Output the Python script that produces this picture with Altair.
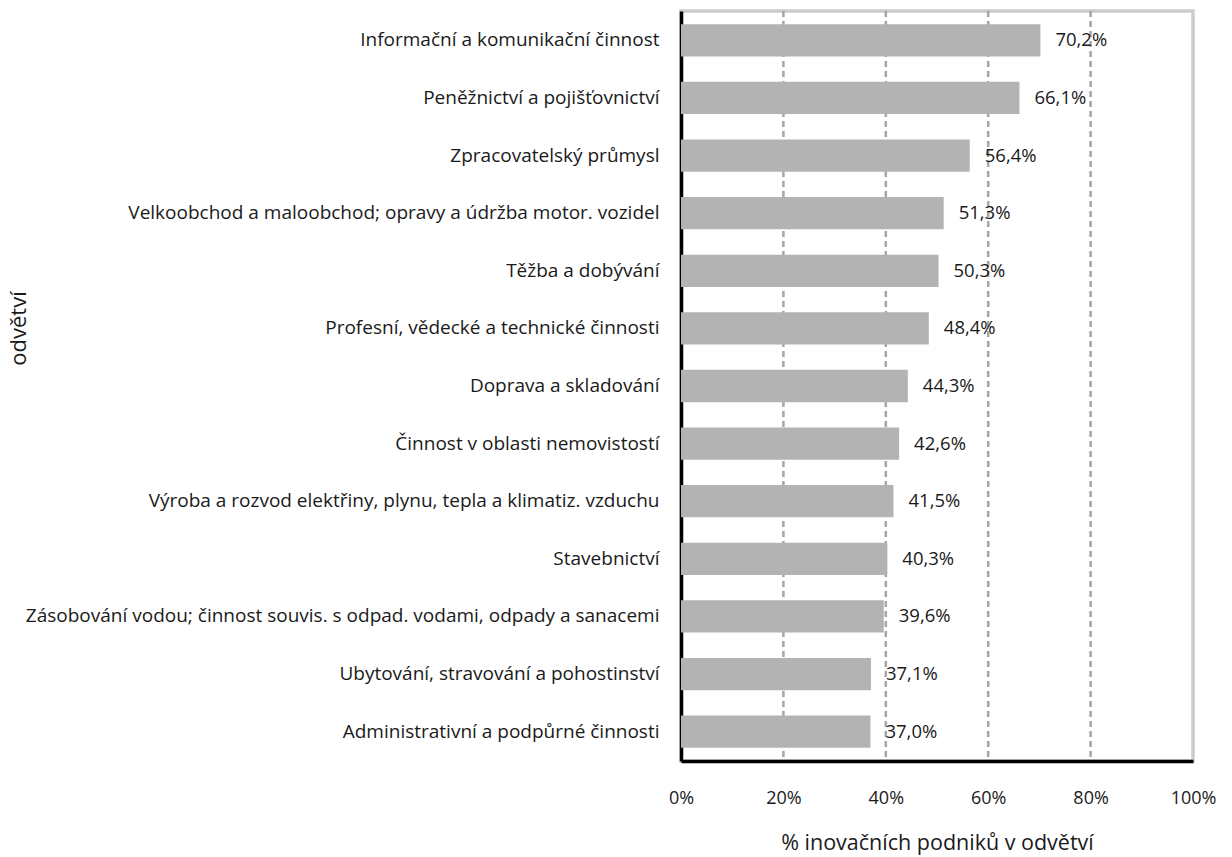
import altair as alt
import pandas as pd

categories = [
    "Informační a komunikační činnost",
    "Peněžnictví a pojišťovnictví",
    "Zpracovatelský průmysl",
    "Velkoobchod a maloobchod; opravy a údržba motor. vozidel",
    "Těžba a dobývání",
    "Profesní, vědecké a technické činnosti",
    "Doprava a skladování",
    "Činnost v oblasti nemovistostí",
    "Výroba a rozvod elektřiny, plynu, tepla a klimatiz. vzduchu",
    "Stavebnictví",
    "Zásobování vodou; činnost souvis. s odpad. vodami, odpady a sanacemi",
    "Ubytování, stravování a pohostinství",
    "Administrativní a podpůrné činnosti",
]
values = [70.2, 66.1, 56.4, 51.3, 50.3, 48.4, 44.3, 42.6, 41.5, 40.3, 39.6, 37.1, 37.0]
tick_values = [0, 20, 40, 60, 80, 100]
grid_values = [20, 40, 60, 80]

df = pd.DataFrame({"odvetvi": categories, "pct": values})
df["label"] = [f"{v:.1f}".replace(".", ",") + "%" for v in values]
grid_df = pd.DataFrame({"g": grid_values})

FONT = "Open Sans"

x_scale = alt.Scale(domain=[0, 100], nice=False, zero=True)
y_scale = alt.Scale(domain=categories, paddingInner=0.44, paddingOuter=0.23)

grid = alt.Chart(grid_df).mark_rule(
    color="#a6a6a6", strokeWidth=2.5, strokeDash=[6, 4]
).encode(x=alt.X("g:Q", scale=x_scale))

bars = alt.Chart(df).mark_bar(color="#b3b3b3").encode(
    x=alt.X(
        "pct:Q",
        scale=x_scale,
        axis=alt.Axis(
            values=tick_values,
            labelExpr="datum.value + '%'",
            grid=False,
            ticks=False,
            domain=True,
            domainColor="#000000",
            domainWidth=3.5,
            labelPadding=28,
            labelFlush=False,
            labelFontSize=18,
            labelColor="#1a1a1a",
            title="% inovačních podniků v odvětví",
            titleFontSize=21.5,
            titleFontWeight="normal",
            titleColor="#1a1a1a",
            titleY=82,
            titleBaseline="middle",
        ),
    ),
    y=alt.Y(
        "odvetvi:N",
        scale=y_scale,
        sort=categories,
        axis=alt.Axis(
            ticks=False,
            domain=True,
            domainColor="#000000",
            domainWidth=3.5,
            labelPadding=22,
            labelLimit=800,
            labelFontSize=19,
            labelColor="#1a1a1a",
            title="odvětví",
            titleFontSize=22,
            titleFontWeight="normal",
            titleColor="#1a1a1a",
            titleX=-663,
            titleY=317,
            titleAngle=270,
            titleAlign="center",
            titleBaseline="middle",
        ),
    ),
)

labels = alt.Chart(df).mark_text(
    align="left", baseline="middle", dx=15, fontSize=18.5, color="#1a1a1a", font=FONT
).encode(
    x=alt.X("pct:Q", scale=x_scale),
    y=alt.Y("odvetvi:N", scale=y_scale, sort=categories),
    text="label:N",
)

chart = (
    alt.layer(grid, bars, labels)
    .properties(
        width=512,
        height=750,
        autosize=alt.AutoSizeParams(type="none"),
        padding={"left": 681, "top": 11, "right": 39, "bottom": 96},
        background="white",
    )
    .configure_view(stroke="#cccccc", strokeWidth=3.5)
    .configure_axis(labelFont=FONT, titleFont=FONT)
)

chart.save("out.html", embed_options={"renderer": "svg", "actions": False})
